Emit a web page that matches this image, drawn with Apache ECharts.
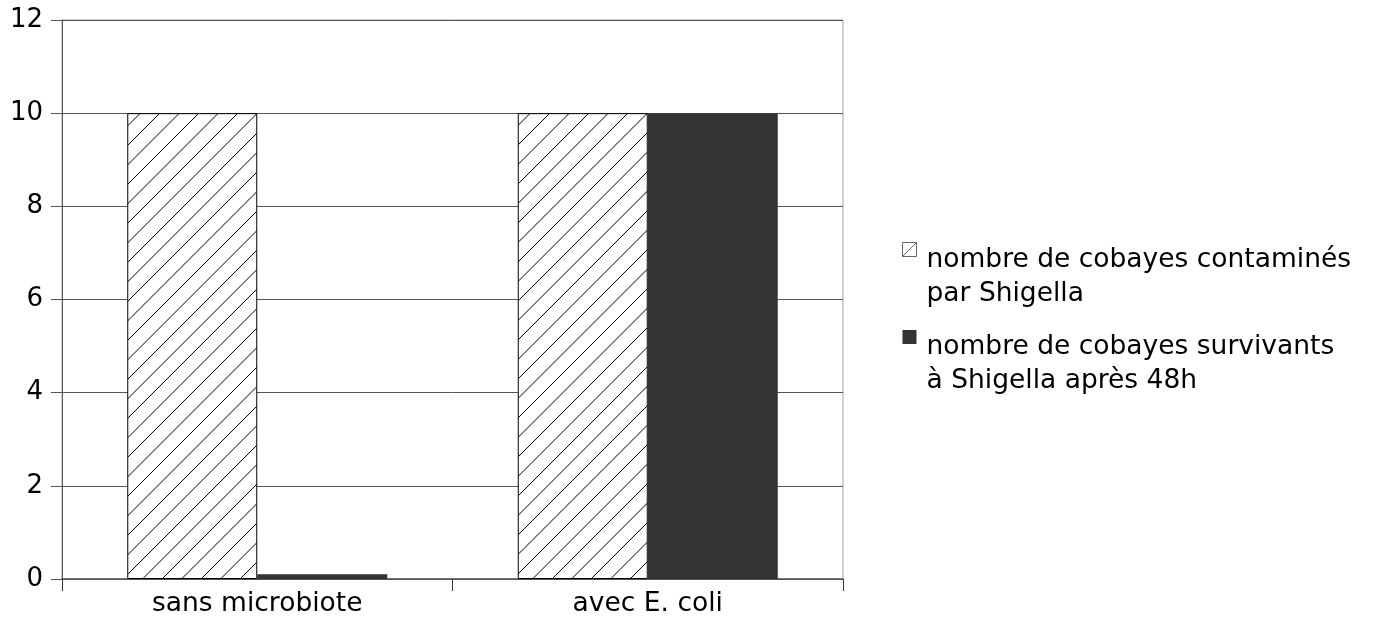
<!DOCTYPE html>
<html><head><meta charset="utf-8">
<script src="https://cdn.jsdelivr.net/npm/echarts@6/dist/echarts.min.js"></script>
<style>html,body{margin:0;padding:0;background:#fff}#c{width:1387px;height:618px}</style>
</head><body><div id="c"></div>
<script>
const categories = ['sans microbiote', 'avec E. coli'];
const contamines = [10, 10];
const survivants = [0.1, 10];
const seriesNames = ['nombre de cobayes contaminés\npar Shigella', 'nombre de cobayes survivants\nà Shigella après 48h'];

function hatch() {
  const s = 39, c = document.createElement('canvas');
  c.width = s; c.height = s;
  const g = c.getContext('2d');
  g.fillStyle = '#fff'; g.fillRect(0, 0, s, s);
  g.strokeStyle = '#000'; g.lineWidth = 1;
  for (let k = -3; k <= 3; k++) {
    const o = k * 19.5;
    g.beginPath(); g.moveTo(o, s); g.lineTo(o + s, 0); g.stroke();
  }
  return c;
}
const pat = { image: hatch(), repeat: 'repeat' };

const chart = echarts.init(document.getElementById('c'));
const font = 'DejaVu Sans';
const iconHatch = 'path://M0,0L14,0L14,14L0,14ZM0,14L14,0M19,69';
const iconSolid = 'path://M0,0L14,0L14,14L0,14ZM19,69';
chart.setOption({
  animation: false,
  textStyle: { fontFamily: font },
  grid: { left: 62, right: 544, top: 20, bottom: 38, show: true, borderColor: '#a0a0a0', borderWidth: 1 },
  legend: {
    orient: 'vertical', left: 902, top: 242, padding: 0,
    itemWidth: 19, itemHeight: 69, itemGap: 18,
    textStyle: { fontFamily: font, fontSize: 26.5, color: '#000', lineHeight: 34 },
    data: [
      { name: seriesNames[0], icon: iconHatch, itemStyle: { color: '#fff', borderColor: '#666', borderWidth: 1 } },
      { name: seriesNames[1], icon: iconSolid, itemStyle: { color: '#333333', borderWidth: 0 } }
    ]
  },
  xAxis: {
    type: 'category', data: categories,
    axisLine: { lineStyle: { color: '#555', width: 1.5 } },
    axisTick: { show: true, length: 12, lineStyle: { color: '#333' } },
    axisLabel: { fontFamily: font, fontSize: 26.5, color: '#000', margin: 12 }
  },
  yAxis: {
    type: 'value', min: 0, max: 12, interval: 2,
    axisLine: { show: true, lineStyle: { color: '#555' } },
    axisTick: { show: true, length: 11, lineStyle: { color: '#555' } },
    axisLabel: { fontFamily: font, fontSize: 26, color: '#000', margin: 19, padding: [4, 0, 0, 0] },
    splitLine: { lineStyle: { color: '#555', width: 1 } }
  },
  series: [
    { name: seriesNames[0], type: 'bar', data: contamines, barWidth: 130, barGap: '0%',
      itemStyle: { color: pat, borderColor: '#000', borderWidth: 1 } },
    { name: seriesNames[1], type: 'bar', data: survivants, barWidth: 130, barGap: '0%',
      itemStyle: { color: '#333333' } }
  ]
});
</script></body></html>
